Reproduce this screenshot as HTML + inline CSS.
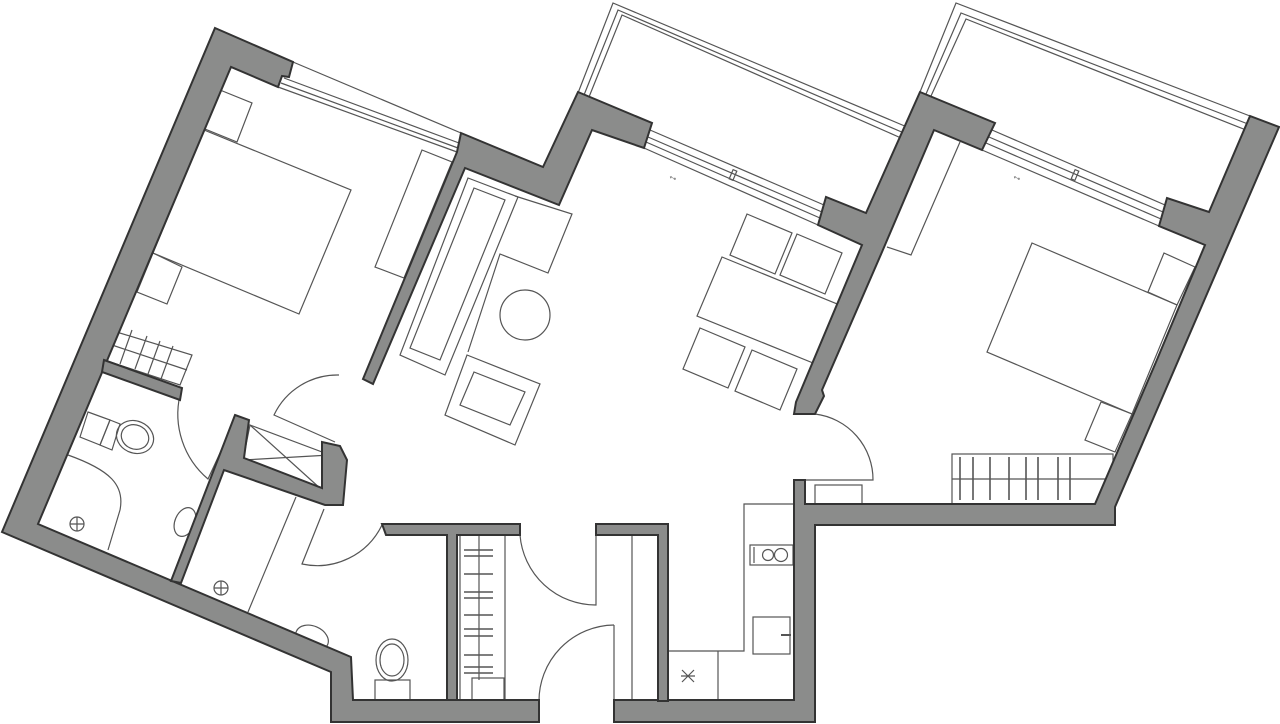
<!DOCTYPE html>
<html><head><meta charset="utf-8"><style>html,body{margin:0;padding:0;background:#fff}svg{display:block}</style></head>
<body>
<svg width="1280" height="724" viewBox="0 0 1280 724" xmlns="http://www.w3.org/2000/svg">
<g fill="none" stroke="#555" stroke-width="1.2">
<polyline points="578,93 613,3 907,127"/>
<polyline points="584,95 618,10 904,133"/>
<polyline points="589,97 622,15 901,138"/>
<polyline points="920,92 956,3 1250,116"/>
<polyline points="926,94 961,13 1248,124"/>
<polyline points="931,96 966,19 1246,130"/>
<line x1="293" y1="62" x2="461" y2="133"/>
<line x1="284" y1="78" x2="459" y2="143"/>
<line x1="281" y1="83" x2="458" y2="148"/>
<line x1="278" y1="87" x2="457" y2="152"/>
<line x1="650" y1="130" x2="824" y2="205"/>
<line x1="648" y1="137" x2="822" y2="212"/>
<line x1="646" y1="142" x2="820" y2="218"/>
<line x1="644" y1="148" x2="818" y2="225"/>
<line x1="992" y1="130" x2="1165" y2="205"/>
<line x1="989" y1="137" x2="1163" y2="212"/>
<line x1="986" y1="143" x2="1161" y2="219"/>
<line x1="982" y1="150" x2="1159" y2="226"/>
<rect x="731" y="170" width="4" height="10" transform="rotate(23 733 175)"/>
<rect x="1073" y="170" width="4" height="10" transform="rotate(23 1075 175)"/>
<text x="668" y="181" font-family="Liberation Sans, sans-serif" font-size="11" fill="#555" stroke="none" transform="rotate(23 676 177)">↔</text>
<text x="1012" y="181" font-family="Liberation Sans, sans-serif" font-size="11" fill="#555" stroke="none" transform="rotate(23 1020 177)">↔</text>

<polygon points="204,130 351,190 299,314 153,253"/>
<polygon points="220,90 252,103 237,142 205,129"/>
<polygon points="153,253 182,267 167,304 137,292"/>
<polygon points="422,150 452,162 404,278 375,267"/>
<polygon points="110,330 192,355 180,385 104,360"/>
<line x1="112" y1="345" x2="187" y2="370"/>
<line x1="132" y1="330" x2="120" y2="364"/><line x1="147" y1="336" x2="135" y2="369"/><line x1="160" y1="341" x2="148" y2="374"/><line x1="173" y1="346" x2="161" y2="379"/>

<polygon points="468,178 518,197 445,375 400,355"/>
<polygon points="474,188 505,200 440,360 410,348"/>
<polyline points="515,196 572,214 548,273 500,254 468,352"/>
<circle cx="525" cy="315" r="25"/>
<polygon points="467,355 540,384 515,445 445,415"/>
<polygon points="474,372 525,392 510,425 460,405"/>
<polygon points="722,257 842,306 818,365 697,316"/>
<polygon points="747,214 792,233 775,274 730,255"/>
<polygon points="797,234 842,253 825,294 780,275"/>
<polygon points="700,328 745,347 728,388 683,369"/>
<polygon points="752,350 797,369 780,410 735,391"/>

<polygon points="1032,243 1177,305 1132,414 987,352"/>
<polygon points="1164,253 1195,267 1177,305 1148,292"/>
<polygon points="1101,402 1132,414 1115,452 1085,440"/>
<polyline points="960,142 911,255 887,247"/>
<rect x="952" y="454" width="161" height="50"/>
<line x1="952" y1="479" x2="1105" y2="479"/>
<g stroke-width="1.6"><line x1="960" y1="457" x2="960" y2="500"/><line x1="973" y1="457" x2="973" y2="500"/><line x1="990" y1="457" x2="990" y2="500"/><line x1="1009" y1="457" x2="1009" y2="500"/><line x1="1026" y1="457" x2="1026" y2="500"/><line x1="1038" y1="457" x2="1038" y2="500"/><line x1="1058" y1="457" x2="1058" y2="500"/><line x1="1070" y1="457" x2="1070" y2="500"/></g>

<polyline points="794,504 744,504 744,651 668,651"/>
<rect x="750" y="545" width="43" height="20"/>
<circle cx="768" cy="555" r="5.5"/><circle cx="781" cy="555" r="6.5"/>
<line x1="754" y1="547" x2="754" y2="563"/>
<rect x="753" y="617" width="37" height="37"/>
<line x1="781" y1="635" x2="791" y2="635" stroke-width="2"/>
<line x1="718" y1="651" x2="718" y2="701"/>
<path d="M681,676 l14,0 M682,670 l12,12 M694,670 l-12,12"/>
<rect x="815" y="485" width="47" height="19"/>

<path d="M339,375 A70,70 0 0 0 274,415 L335,442"/>
<path d="M180,395 A85,85 0 0 0 208,479 L233,425"/>
<path d="M382,525 A72,72 0 0 1 302,564 L324,509"/>
<path d="M520,535 A76,76 0 0 0 596,605 L596,535"/>
<path d="M614,625 A76,76 0 0 0 539,702"/>
<line x1="614" y1="625" x2="614" y2="700"/>
<line x1="632" y1="535" x2="632" y2="700"/>
<path d="M815,414 A66,66 0 0 1 873,480 L805,480"/>

<polygon points="250,425 330,455 322,490 243,460"/>
<line x1="250" y1="425" x2="322" y2="490"/><line x1="330" y1="455" x2="243" y2="460"/>
<polygon points="88,412 110,420 100,445 80,437"/>
<polygon points="110,420 120,424 112,450 100,445"/>
<ellipse cx="135" cy="437" rx="19" ry="16" transform="rotate(23 135 437)"/>
<ellipse cx="135" cy="437" rx="14" ry="12" transform="rotate(23 135 437)"/>
<path d="M68,455 C110,470 125,485 120,510 L108,550"/>
<circle cx="77" cy="524" r="7"/><path d="M70,524 h14 M77,517 v14"/>
<ellipse cx="185" cy="522" rx="10" ry="15" transform="rotate(23 185 522)"/>
<line x1="296" y1="497" x2="248" y2="612"/>
<circle cx="221" cy="588" r="7"/><path d="M214,588 h14 M221,581 v14"/>
<ellipse cx="312" cy="638" rx="17" ry="12" transform="rotate(23 312 638)"/>
<rect x="375" y="680" width="35" height="20"/>
<ellipse cx="392" cy="660" rx="16" ry="21"/>
<ellipse cx="392" cy="660" rx="12" ry="16"/>
<rect x="460" y="535" width="45" height="165"/>
<line x1="479" y1="535" x2="479" y2="680"/>
<rect x="472" y="678" width="32" height="22"/>
<g stroke-width="1.6">
<line x1="464" y1="550" x2="493" y2="550"/><line x1="464" y1="556" x2="493" y2="556"/><line x1="464" y1="574" x2="493" y2="574"/><line x1="464" y1="592" x2="493" y2="592"/><line x1="464" y1="598" x2="493" y2="598"/><line x1="464" y1="615" x2="493" y2="615"/><line x1="464" y1="629" x2="493" y2="629"/><line x1="464" y1="636" x2="493" y2="636"/><line x1="464" y1="655" x2="493" y2="655"/><line x1="464" y1="667" x2="493" y2="667"/><line x1="464" y1="673" x2="493" y2="673"/>
</g>
</g>

<g fill="#8b8c8b" stroke="#333" stroke-width="2" stroke-linejoin="miter">
<polygon points="215,28 293,62 289,77 282,76 278,87 231,67 38,524 351,657 353,700 539,700 539,722 331,722 331,672 2,532"/>
<polygon points="614,700 794,700 794,480 805,480 805,504 1095,504 1156,362 1205,245 1159,226 1167,198 1209,212 1250,116 1279,127 1115,507 1115,525 815,525 815,722 614,722"/>
<polygon points="920,92 995,123 982,150 934,130 882,252 822,390 824,396 815,414 794,414 796,402 862,245 818,225 826,197 866,213"/>
<polygon points="461,133 543,167 578,92 652,123 644,148 592,130 559,205 465,168 373,384 363,379 457,152"/>
<polygon points="104,360 182,388 180,400 102,372"/>
<polygon points="235,415 249,420 244,458 322,488 322,442 340,446 347,460 343,505 325,505 224,470 181,583 171,581"/>
<polygon points="382,524 520,524 520,535 457,535 457,700 447,700 447,535 386,535"/>
<polygon points="596,524 668,524 668,701 658,701 658,535 596,535"/>
</g>
</svg>
</body></html>
